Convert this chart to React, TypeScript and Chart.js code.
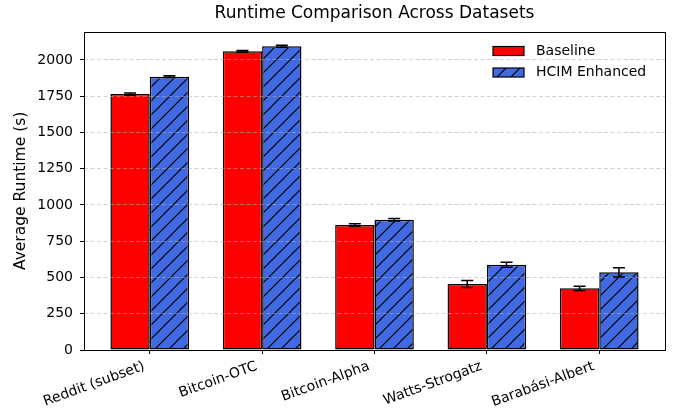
import React, { useEffect, useRef } from 'react';
import { Chart, registerables } from 'chart.js';

Chart.register(...registerables);

const categories = ['Reddit (subset)', 'Bitcoin-OTC', 'Bitcoin-Alpha', 'Watts-Strogatz', 'Barabási-Albert'];
const seriesLabels = ['Baseline', 'HCIM Enhanced'];
const baselineValues = [1765, 2060, 862, 455, 425];
const baselineErrors = [8, 6, 8, 24, 14];
const hcimValues = [1885, 2094, 898, 588, 536];
const hcimErrors = [6, 7, 8, 17, 32];
const yTickValues = [0, 250, 500, 750, 1000, 1250, 1500, 1750, 2000];
const yMax = 2195;
const xMin = -0.585;
const xMax = 4.585;

const RED = '#FF0000';
const BLUE = '#4169E1';
const FONT = "'DejaVu Sans', 'Liberation Sans', sans-serif";

function makeHatch(bg: string): CanvasPattern | string {
  const s = 14;
  const c = document.createElement('canvas');
  c.width = s;
  c.height = s;
  const ctx = c.getContext('2d');
  if (!ctx) return bg;
  ctx.fillStyle = bg;
  ctx.fillRect(0, 0, s, s);
  ctx.strokeStyle = '#000';
  ctx.lineWidth = 1.2;
  ctx.beginPath();
  ctx.moveTo(-2, 2);
  ctx.lineTo(2, -2);
  ctx.moveTo(-1, s + 1);
  ctx.lineTo(s + 1, -1);
  ctx.moveTo(s - 2, s + 2);
  ctx.lineTo(s + 2, s - 2);
  ctx.stroke();
  return ctx.createPattern(c, 'repeat') || bg;
}

export default function App() {
  const ref = useRef<HTMLCanvasElement>(null);

  useEffect(() => {
    const canvas = ref.current;
    if (!canvas) return;
    const hatch = makeHatch(BLUE);
    const errorSets = [baselineErrors, hcimErrors];
    const valueSets = [baselineValues, hcimValues];

    const overlayPlugin = {
      id: 'overlay',
      afterDraw(chart: any) {
        const ctx = chart.ctx;
        const a = chart.chartArea;
        const yScale = chart.scales.y;
        ctx.save();

        // error bars
        ctx.strokeStyle = '#000';
        ctx.lineWidth = 1.5;
        for (let d = 0; d < valueSets.length; d++) {
          const meta = chart.getDatasetMeta(d);
          meta.data.forEach((el: any, i: number) => {
            const v = valueSets[d][i];
            const e = errorSets[d][i];
            const x = el.x;
            const yt = yScale.getPixelForValue(v + e);
            const yb = yScale.getPixelForValue(v - e);
            const cap = 6;
            ctx.beginPath();
            ctx.moveTo(x, yt);
            ctx.lineTo(x, yb);
            ctx.moveTo(x - cap, yt);
            ctx.lineTo(x + cap, yt);
            ctx.moveTo(x - cap, yb);
            ctx.lineTo(x + cap, yb);
            ctx.stroke();
          });
        }

        // frame
        ctx.lineWidth = 1;
        ctx.strokeRect(Math.round(a.left) + 0.5, Math.round(a.top) + 0.5, Math.round(a.right - a.left), Math.round(a.bottom - a.top));

        // legend
        const boxLeft = a.right - 172;
        const boxW = 31;
        const boxH = 9;
        const rows = [51, 72.5];
        const fills: any[] = [RED, hatch];
        ctx.font = `14px ${FONT}`;
        ctx.textBaseline = 'middle';
        ctx.textAlign = 'left';
        for (let k = 0; k < seriesLabels.length; k++) {
          const cy = rows[k];
          ctx.fillStyle = fills[k];
          ctx.fillRect(boxLeft, cy - boxH / 2, boxW, boxH);
          ctx.strokeStyle = '#000';
          ctx.lineWidth = 1.2;
          ctx.strokeRect(boxLeft, cy - boxH / 2, boxW, boxH);
          ctx.fillStyle = '#000';
          ctx.fillText(seriesLabels[k], boxLeft + 43, cy);
        }
        ctx.restore();
      },
    };

    const chart = new Chart(canvas, {
      type: 'bar',
      data: {
        datasets: [
          {
            label: seriesLabels[0],
            data: baselineValues.map((v, i) => ({ x: i, y: v })),
            backgroundColor: RED,
            borderColor: '#000',
            borderWidth: 1.5,
            borderSkipped: false,
          },
          {
            label: seriesLabels[1],
            data: hcimValues.map((v, i) => ({ x: i, y: v })),
            backgroundColor: hatch as any,
            borderColor: '#000',
            borderWidth: 1.5,
            borderSkipped: false,
          },
        ],
      },
      options: {
        responsive: false,
        animation: false,
        devicePixelRatio: 1,
        layout: { padding: { left: 0, right: 16, top: 0, bottom: 0 } },
        datasets: {
          bar: { categoryPercentage: 0.7, barPercentage: 1.0 },
        },
        plugins: {
          legend: { display: false },
          tooltip: { enabled: false },
          title: {
            display: true,
            text: 'Runtime Comparison Across Datasets',
            fullSize: false,
            color: '#000',
            font: { family: FONT, size: 17, weight: 'normal' },
            padding: { top: 3.3, bottom: 8 },
          },
        },
        scales: {
          x: {
            type: 'linear',
            min: xMin,
            max: xMax,
            offset: false,
            afterBuildTicks: (scale: any) => {
              scale.ticks = categories.map((_, i) => ({ value: i }));
            },
            afterFit: (scale: any) => {
              scale.height = 66;
            },
            grid: {
              display: true,
              offset: false,
              drawOnChartArea: false,
              drawTicks: true,
              tickLength: 4,
              tickColor: '#000',
              tickWidth: 1,
              color: '#000',
            },
            border: { display: false },
            ticks: {
              autoSkip: false,
              minRotation: 20,
              maxRotation: 20,
              padding: 4,
              labelOffset: -5.5,
              color: '#000',
              font: { family: FONT, size: 14 },
              callback: (value: any) => categories[Number(value)] ?? '',
            },
          },
          y: {
            type: 'linear',
            min: 0,
            max: yMax,
            afterBuildTicks: (scale: any) => {
              scale.ticks = yTickValues.map((v) => ({ value: v }));
            },
            afterFit: (scale: any) => {
              scale.width = 84;
            },
            grid: {
              display: true,
              z: 1,
              color: 'rgba(176,176,176,0.7)',
              lineWidth: 0.8,
              drawTicks: true,
              tickLength: 4,
              tickColor: '#000',
              tickWidth: 1,
              tickBorderDash: [],
            },
            border: { display: false, dash: [4, 2.5] },
            ticks: {
              padding: 7,
              color: '#000',
              font: { family: FONT, size: 14 },
              callback: (value: any) => String(value),
            },
            title: {
              display: true,
              text: 'Average Runtime (s)',
              color: '#000',
              font: { family: FONT, size: 15.5 },
              padding: { top: 11.7, bottom: 0 },
            },
          },
        },
      } as any,
      plugins: [overlayPlugin],
    });

    return () => chart.destroy();
  }, []);

  return (
    <div style={{ position: 'absolute', left: 0, top: 0, width: 681, height: 416 }}>
      <canvas ref={ref} width={681} height={416} style={{ display: 'block', width: 681, height: 416 }} />
    </div>
  );
}
